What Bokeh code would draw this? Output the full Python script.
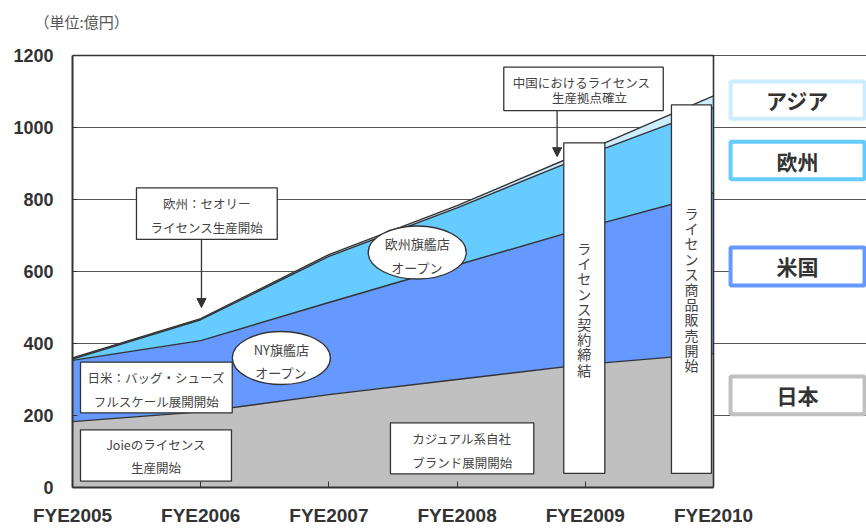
from bokeh.plotting import figure
from bokeh.models import Range1d, FixedTicker, Arrow, NormalHead, ColumnDataSource
from bokeh.embed import file_html
from bokeh.resources import INLINE
from bokeh.core.properties import value

# ---- data (億円) ----
years = ["FYE2005", "FYE2006", "FYE2007", "FYE2008", "FYE2009", "FYE2010"]
japan = [183, 210, 258, 300, 342, 372]
usa = [170, 198, 256, 318, 380, 446]
europe = [4, 58, 128, 159, 200, 237]
asia = [3, 3, 5, 6, 12, 33]
y_ticks = [0, 200, 400, 600, 800, 1000, 1200]
region_names = ["アジア", "欧州", "米国", "日本"]

COL_JP = "#C0C0C0"
COL_US = "#6699FF"
COL_EU = "#66CCFF"
COL_AS = "#CCECFF"
DARK = "#333333"
TXT = "#444444"
JP_FONT = "Noto Sans CJK JP"

x = list(range(len(years)))
c0 = [0] * len(x)
c1 = japan
c2 = [a + b for a, b in zip(c1, usa)]
c3 = [a + b for a, b in zip(c2, europe)]
c4 = [a + b for a, b in zip(c3, asia)]

p = figure(width=866, height=528,
           x_range=Range1d(0, 6.1934), y_range=Range1d(0, 1241.7),
           output_backend="svg", toolbar_location=None,
           min_border_left=72, min_border_right=0,
           min_border_top=40, min_border_bottom=41,
           title="（単位:億円）")
p.title.align = "left"
p.title.offset = -38
p.title.text_font = JP_FONT
p.title.text_font_style = "normal"
p.title.text_font_size = "15px"
p.title.text_color = "#555555"
p.title.standoff = 14
p.title.vertical_align = "top"
p.outline_line_color = None
p.background_fill_color = "white"
p.border_fill_color = "white"

# grid
p.xgrid.visible = False
p.ygrid.ticker = FixedTicker(ticks=y_ticks)
p.ygrid.bounds = (0, len(x) - 1)
p.ygrid.grid_line_color = "#555555"
p.ygrid.grid_line_width = 1.2

# stacked areas
p.varea(x=x, y1=c0, y2=c1, fill_color=COL_JP)
p.varea(x=x, y1=c1, y2=c2, fill_color=COL_US)
p.varea(x=x, y1=c2, y2=c3, fill_color=COL_EU)
p.varea(x=x, y1=c3, y2=c4, fill_color=COL_AS)
for c in (c1, c2, c3, c4):
    p.line(x=x, y=c, line_color=DARK, line_width=1.4)

# frame (top and right)
p.segment(x0=[0, 5], y0=[1200, 0], x1=[5, 5], y1=[1200, 1200],
          line_color=DARK, line_width=1.6)

# axes
xa = p.xaxis[0]
xa.ticker = FixedTicker(ticks=x)
xa.major_label_overrides = {i: years[i] for i in x}
xa.bounds = (0, len(x) - 1)
xa.axis_line_color = DARK
xa.axis_line_width = 2
xa.major_tick_in = 6
xa.major_tick_out = 0
xa.major_tick_line_color = DARK
xa.minor_tick_line_color = None
xa.major_label_standoff = 17
xa.major_label_text_font = "Liberation Sans"
xa.major_label_text_font_style = "bold"
xa.major_label_text_font_size = "19px"
xa.major_label_text_color = DARK

ya = p.yaxis[0]
ya.ticker = FixedTicker(ticks=y_ticks)
ya.bounds = (0, 1200)
ya.axis_line_color = DARK
ya.axis_line_width = 2
ya.major_tick_in = 5
ya.major_tick_out = 0
ya.major_tick_line_color = DARK
ya.minor_tick_line_color = None
ya.major_label_standoff = 19
ya.major_label_text_font = "Liberation Sans"
ya.major_label_text_font_style = "bold"
ya.major_label_text_font_size = "18px"
ya.major_label_text_color = DARK

# white annotation boxes
boxes = dict(
    left=[0.499, 3.364, 0.0624, 0.0624, 2.480, 3.832, 4.672],
    right=[1.597, 4.608, 1.246, 1.240, 3.598, 4.152, 4.984],
    bottom=[689, 1047, 207.5, 17.5, 38, 39, 39],
    top=[832.5, 1167.5, 348, 160.3, 179.7, 957.5, 1063],
)
p.quad(source=ColumnDataSource(boxes), left="left", right="right",
       bottom="bottom", top="top", fill_color="white",
       line_color=DARK, line_width=1.3)

# ellipses
p.ellipse(x=[2.689, 1.629], y=[652.8, 359.7], width=98, height=53,
          width_units="screen", height_units="screen",
          fill_color="white", line_color=DARK, line_width=1.3)

# arrows
for xs, ys, ye in [(1.006, 689, 500), (3.78, 1047, 919)]:
    p.add_layout(Arrow(end=NormalHead(size=9, fill_color=DARK, line_color=DARK),
                       x_start=xs, y_start=ys, x_end=xs, y_end=ye,
                       line_color=DARK, line_width=1.3))

# annotation texts
ann = dict(
    x=[1.048, 1.048, 3.970, 4.033, 2.689, 2.689, 1.629, 1.629,
       0.654, 0.654, 0.651, 0.651, 3.040, 3.040],
    y=[789.7, 723, 1125.8, 1082.5, 677, 610, 383.3, 318.6,
       306.4, 239.7, 118.6, 54.7, 137, 70.3],
    text=["欧州：セオリー", "ライセンス生産開始",
          "中国におけるライセンス", "生産拠点確立",
          "欧州旗艦店", "オープン",
          "NY旗艦店", "オープン",
          "日米：バッグ・シューズ", "フルスケール展開開始",
          "Joieのライセンス", "生産開始",
          "カジュアル系自社", "ブランド展開開始"],
    size=["12.5px", "12.5px", "12.5px", "12.5px", "13px", "13px", "13px", "13px",
          "12.5px", "12.5px", "12.5px", "12.5px", "12.5px", "12.5px"],
)
p.text(source=ColumnDataSource(ann), x="x", y="y", text="text",
       text_font=value(JP_FONT), text_font_size="size", text_color=TXT,
       text_align="center", text_baseline="middle")

# vertical texts in the tall boxes (one upright character per row)
vt = [("ライセンス契約締結", 3.992, 665.0), ("ライセンス商品販売開始", 4.828, 762.2)]
vx, vy, vc = [], [], []
for s, cx, ytop in vt:
    for i, ch in enumerate(s):
        vx.append(cx)
        vy.append(ytop - 42.2 * i)
        vc.append(ch)
p.text(x=vx, y=vy, text=vc,
       text_font=value(JP_FONT), text_font_size="14px", text_color=TXT,
       text_align="center", text_baseline="middle")

# region legend boxes
leg_y0 = [1024, 856.4, 561, 203.6]
leg_y1 = [1128, 960.3, 667, 308.3]
p.quad(left=5.133, right=6.178, bottom=leg_y0, top=leg_y1, fill_color="white",
       line_color=[COL_AS, COL_EU, COL_US, COL_JP], line_width=4)
p.text(x=5.655, y=[(a + b) / 2 for a, b in zip(leg_y0, leg_y1)], text=region_names,
       text_font=value(JP_FONT), text_font_style="bold", text_font_size="21px",
       text_color=DARK, text_align="center", text_baseline="middle")

open("out.html", "w").write(file_html(p, INLINE))
